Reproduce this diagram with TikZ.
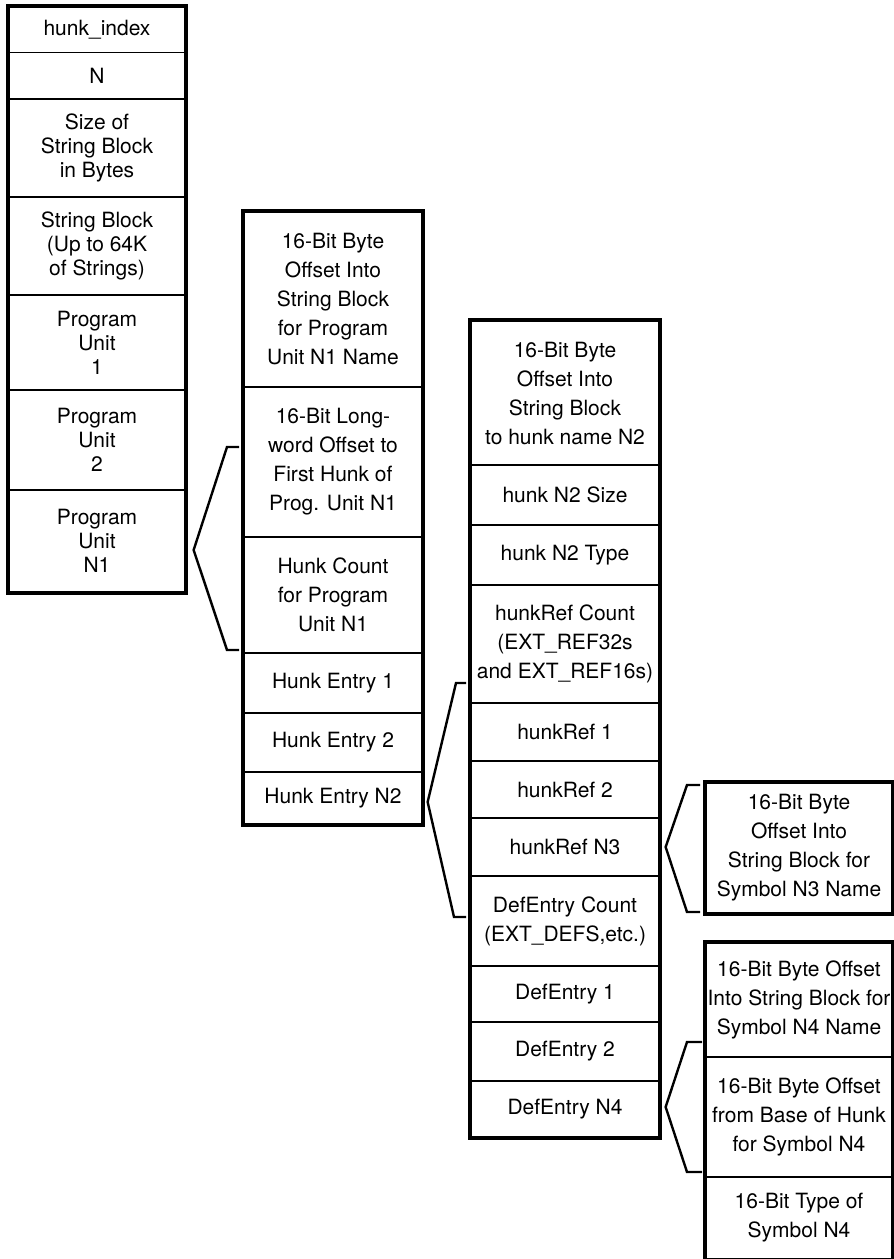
\documentclass[tikz,border=0pt]{standalone}
\usepackage{fontspec}
\setmainfont{TeX Gyre Heros}
\begin{document}
\begin{tikzpicture}[x=1pt,y=-1pt,
  cell/.style={draw, line width=1.3pt, inner sep=0pt, align=center,
    font=\fontsize{21}{29}\selectfont},
  tightcell/.style={cell, font=\fontsize{21}{24}\selectfont},
  frame/.style={draw, line width=4pt, line join=miter},
  brace/.style={draw, line width=2.4pt, line join=miter}]
\useasboundingbox (0,0) rectangle (894,1259);

% index table
\node[tightcell, minimum width=176, minimum height=45.5] (c1a) at (97,29.75) {hunk\_index};
\node[tightcell, minimum width=176, minimum height=46.5] (c1b) at (97,75.75) {N};
\node[tightcell, minimum width=176, minimum height=98] (c1c) at (97,148) {Size of\\String Block\\in Bytes};
\node[tightcell, minimum width=176, minimum height=98] (c1d) at (97,246) {String Block\\(Up to 64K\\of Strings)};
\node[tightcell, minimum width=176, minimum height=95] (c1e) at (97,342.5) {Program\\Unit\\1};
\node[tightcell, minimum width=176, minimum height=100] (c1f) at (97,440) {Program\\Unit\\2};
\node[tightcell, minimum width=176, minimum height=102] (c1g) at (97,541) {Program\\Unit\\N1};
\draw[frame] (c1a.north west) rectangle (c1g.south east);

% program unit
\node[cell, minimum width=178, minimum height=175.5] (c2a) at (333,299.25) {16-Bit Byte\\Offset Into\\String Block\\for Program\\Unit N1 Name};
\node[cell, minimum width=178, minimum height=150] (c2b) at (333,462) {16-Bit Long-\\word Offset to\\First Hunk of\\Prog. Unit N1};
\node[cell, minimum width=178, minimum height=116] (c2c) at (333,595) {Hunk Count\\for Program\\Unit N1};
\node[cell, minimum width=178, minimum height=60] (c2d) at (333,683) {Hunk Entry 1};
\node[cell, minimum width=178, minimum height=59] (c2e) at (333,742.5) {Hunk Entry 2};
\node[cell, minimum width=178, minimum height=52] (c2f) at (333,798) {Hunk Entry N2};
\draw[frame] (c2a.north west) rectangle (c2f.south east);

% hunk entry
\node[cell, minimum width=188, minimum height=144] (c3a) at (565,393) {16-Bit Byte\\Offset Into\\String Block\\to hunk name N2};
\node[cell, minimum width=188, minimum height=60] (c3b) at (565,495) {hunk N2 Size};
\node[cell, minimum width=188, minimum height=60] (c3c) at (565,555) {hunk N2 Type};
\node[cell, minimum width=188, minimum height=118] (c3d) at (565,644) {hunkRef Count\\(EXT\_REF32s\\and EXT\_REF16s)};
\node[cell, minimum width=188, minimum height=58] (c3e) at (565,732) {hunkRef 1};
\node[cell, minimum width=188, minimum height=57] (c3f) at (565,789.5) {hunkRef 2};
\node[cell, minimum width=188, minimum height=58] (c3g) at (565,847) {hunkRef N3};
\node[cell, minimum width=188, minimum height=90] (c3h) at (565,921) {DefEntry Count\\(EXT\_DEFS,etc.)};
\node[cell, minimum width=188, minimum height=56] (c3i) at (565,994) {DefEntry 1};
\node[cell, minimum width=188, minimum height=59] (c3j) at (565,1051.5) {DefEntry 2};
\node[cell, minimum width=188, minimum height=56] (c3k) at (565,1109) {DefEntry N4};
\draw[frame] (c3a.north west) rectangle (c3k.south east);

% hunk reference
\node[cell, minimum width=186, minimum height=130] (c4a) at (799,848) {16-Bit Byte\\Offset Into\\String Block for\\Symbol N3 Name};
\draw[frame] (c4a.north west) rectangle (c4a.south east);

% definition entry
\node[cell, minimum width=186, minimum height=114] (c4b) at (799,1000) {16-Bit Byte Offset\\Into String Block for\\Symbol N4 Name};
\node[cell, minimum width=186, minimum height=120] (c4c) at (799,1117) {16-Bit Byte Offset\\from Base of Hunk\\for Symbol N4};
\node[cell, minimum width=186, minimum height=82] (c4d) at (799,1218) {16-Bit Type of\\Symbol N4};
\draw[frame] (c4b.north west) rectangle (c4d.south east);

% expansion brackets
\coordinate (b1t) at (239,447);  \coordinate (b1b) at (239,650);
\coordinate (b2t) at (466,683);  \coordinate (b2b) at (466,917);
\coordinate (b3t) at (700,785);  \coordinate (b3b) at (700,912);
\coordinate (b4t) at (702,1042); \coordinate (b4b) at (702,1172);
\draw[brace] (b1t) -- ++(-12,0) -- ([xshift=8pt,yshift=-9pt]c1g.east) -- (227,650) -- (b1b);
\draw[brace] (b2t) -- ++(-10,0) -- ([xshift=5pt,yshift=-4pt]c2f.east) -- (454,917) -- (b2b);
\draw[brace] (b3t) -- ++(-13,0) -- ([xshift=6pt]c3g.east) -- (687,912) -- (b3b);
\draw[brace] (b4t) -- ++(-15,0) -- ([xshift=6pt,yshift=2pt]c3k.east) -- (687,1172) -- (b4b);
\end{tikzpicture}
\end{document}
